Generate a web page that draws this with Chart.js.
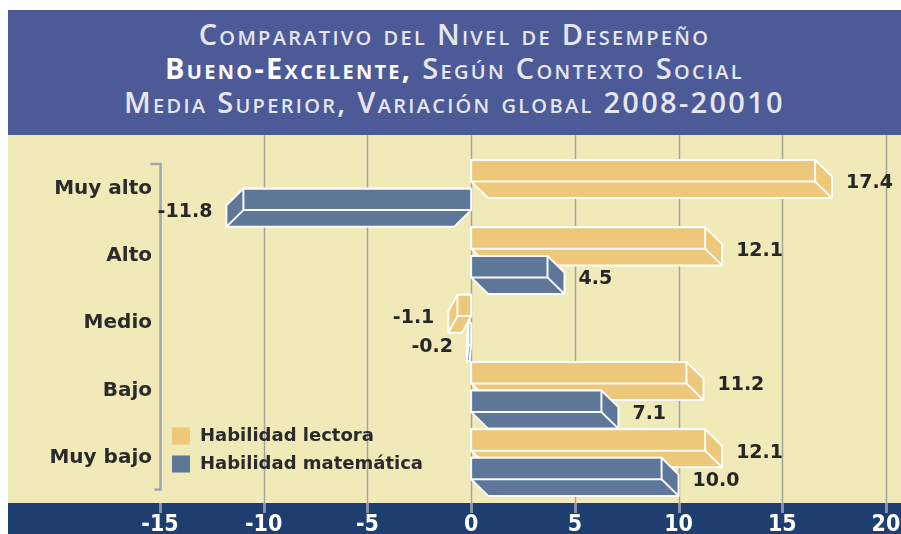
<!DOCTYPE html>
<html lang="es">
<head>
<meta charset="utf-8">
<title>Comparativo del Nivel de Desempeño</title>
<script src="https://cdn.jsdelivr.net/npm/chart.js@4.4.1/dist/chart.umd.min.js"></script>
<style>
  body { margin: 0; background: #ffffff; }
  #marco { position: absolute; left: 8px; top: 10px; width: 893px; height: 524px; }
  #titulo {
    height: 125px; background: #4D5A98; color: #e6e6ee;
    text-align: center; font-family: "Open Sans", sans-serif; font-weight: 600;
    font-size: 29px; line-height: 34px; font-variant: small-caps;
    letter-spacing: 2.3px; padding-top: 7px; box-sizing: border-box;
  }
  #titulo b { color: #ffffff; font-weight: 700; }
  #caja { position: relative; width: 893px; height: 399px; }
</style>
</head>
<body>
<div id="marco">
  <div id="titulo">
    Comparativo del Nivel de Desempeño<br>
    <b>Bueno-Excelente,</b> Según Contexto Social<br>
    Media Superior, Variación global 2008-20010
  </div>
  <div id="caja"><canvas id="grafico"></canvas></div>
</div>
<script>
// Datos del gráfico
const categorias = ['Muy alto', 'Alto', 'Medio', 'Bajo', 'Muy bajo'];
const lectora = [17.4, 12.1, -1.1, 11.2, 12.1];
const matematica = [-11.8, 4.5, -0.2, 7.1, 10.0];
const marcasX = [-15, -10, -5, 0, 5, 10, 15, 20];

const amarillo = '#EDC87A';
const azul = '#5E7698';
const fondo = '#F0EAB9';
const banda = '#1E3E70';

// Fondo amarillo y banda azul del eje
const fondoPlugin = {
    id: 'fondo',
    beforeDraw(chart) {
        const ctx = chart.ctx;
        const area = chart.chartArea;
        const bandaY = area.bottom + 11.5;
        ctx.save();
        ctx.fillStyle = fondo;
        ctx.fillRect(0, 0, chart.width, bandaY);
        ctx.fillStyle = banda;
        ctx.fillRect(0, bandaY, chart.width, chart.height - bandaY);
        ctx.restore();
    }
};

// Barras en 3D, rejilla, etiquetas y leyenda
const barras3d = {
    id: 'barras3d',
    beforeDatasetsDraw(chart) {
        const ctx = chart.ctx;
        const area = chart.chartArea;
        const ejeX = chart.scales.x;
        const bandaY = area.bottom + 11.5;
        ctx.save();

        // lineas verticales
        marcasX.forEach((v, i) => {
            const px = Math.round(ejeX.getPixelForValue(v)) + 0.5;
            if (i > 0) {
                ctx.strokeStyle = '#a3a39a';
                ctx.lineWidth = 1.5;
                ctx.beginPath();
                ctx.moveTo(px, 0);
                ctx.lineTo(px, bandaY);
                ctx.stroke();
            }
            ctx.strokeStyle = '#8790a6';
            ctx.lineWidth = 3;
            ctx.beginPath();
            ctx.moveTo(px, bandaY);
            ctx.lineTo(px, bandaY + 10);
            ctx.stroke();
        });

        // corchete del eje de categorias
        const xc = ejeX.getPixelForValue(marcasX[0]) + 0.5;
        ctx.strokeStyle = '#a2a4ae';
        ctx.lineWidth = 2.5;
        ctx.beginPath();
        ctx.moveTo(xc - 10, area.top + 9);
        ctx.lineTo(xc, area.top + 9);
        ctx.lineTo(xc, area.bottom - 2);
        ctx.lineTo(xc - 6, area.bottom - 2);
        ctx.stroke();

        // barras
        chart.data.datasets.forEach((ds, di) => {
            const meta = chart.getDatasetMeta(di);
            meta.data.forEach((bar, i) => {
                const x0 = bar.base;
                const x1 = bar.x;
                const signo = x1 >= x0 ? 1 : -1;
                const largo = Math.abs(x1 - x0);
                const d = Math.min(17, largo * 0.4) * signo;
                const xf = x1 - d;
                const frente = bar.height * 0.75;
                const h = bar.height * 0.58;
                const yt = bar.y - bar.height / 2;
                const ym = yt + frente;

                ctx.fillStyle = ds.backgroundColor;
                ctx.strokeStyle = 'rgba(255,255,255,0.95)';
                ctx.lineWidth = 2;
                ctx.lineJoin = 'round';

                ctx.beginPath();
                ctx.moveTo(x0, yt);
                ctx.lineTo(xf, yt);
                ctx.lineTo(xf + d, yt + h);
                ctx.lineTo(xf + d, ym + h);
                ctx.lineTo(x0 + d, ym + h);
                ctx.lineTo(x0, ym);
                ctx.closePath();
                ctx.fill();
                ctx.stroke();

                ctx.beginPath();
                ctx.rect(Math.min(x0, xf), yt, Math.abs(xf - x0), frente);
                ctx.fill();
                ctx.stroke();

                ctx.beginPath();
                ctx.moveTo(xf, ym);
                ctx.lineTo(xf + d, ym + h);
                ctx.stroke();

                // valor
                const valor = ds.data[i];
                ctx.fillStyle = '#262626';
                ctx.font = 'bold 19px "DejaVu Sans", sans-serif';
                ctx.textBaseline = 'middle';
                ctx.textAlign = signo > 0 ? 'left' : 'right';
                ctx.fillText(valor.toFixed(1), x1 + 14 * signo, ym + 2);
            });
        });

        // leyenda
        const lx = area.left + 12;
        let ly = area.bottom - 64;
        chart.data.datasets.forEach((ds) => {
            ctx.fillStyle = ds.backgroundColor;
            ctx.fillRect(lx, ly, 18, 17);
            ctx.fillStyle = '#2a2a2a';
            ctx.font = 'bold 18px "DejaVu Sans", sans-serif';
            ctx.textAlign = 'left';
            ctx.textBaseline = 'middle';
            ctx.fillText(ds.label, lx + 28, ly + 9);
            ly += 28;
        });

        ctx.restore();
        return false;
    }
};

const ctx = document.getElementById('grafico').getContext('2d');
const grafico = new Chart(ctx, {
    type: 'bar',
    data: {
        labels: categorias,
        datasets: [{
            label: 'Habilidad lectora',
            data: lectora,
            backgroundColor: amarillo
        }, {
            label: 'Habilidad matemática',
            data: matematica,
            backgroundColor: azul
        }]
    },
    options: {
        indexAxis: 'y',
        responsive: true,
        maintainAspectRatio: false,
        animation: false,
        categoryPercentage: 0.85,
        barPercentage: 1,
        layout: { padding: { top: 9, right: 15, left: 0, bottom: 0 } },
        plugins: {
            legend: { display: false },
            tooltip: { enabled: false }
        },
        scales: {
            x: {
                min: marcasX[0],
                max: marcasX[marcasX.length - 1],
                afterFit: (s) => {
                    s.height = 42.5;
                    s.paddingLeft = 0;
                    s.paddingRight = 0;
                },
                grid: { display: false, drawTicks: false },
                border: { display: false },
                ticks: {
                    stepSize: 5,
                    padding: 20,
                    color: '#ffffff',
                    font: { family: '"Liberation Sans Narrow", "DejaVu Sans Condensed", sans-serif', size: 23, weight: 'bold' }
                }
            },
            y: {
                afterFit: (s) => { s.width = 152; },
                grid: { display: false, drawTicks: false },
                border: { display: false },
                ticks: {
                    padding: 8,
                    color: '#2b2b2b',
                    font: { family: '"DejaVu Sans", sans-serif', size: 20, weight: 'bold' }
                }
            }
        }
    },
    plugins: [fondoPlugin, barras3d]
});
</script>
</body>
</html>
